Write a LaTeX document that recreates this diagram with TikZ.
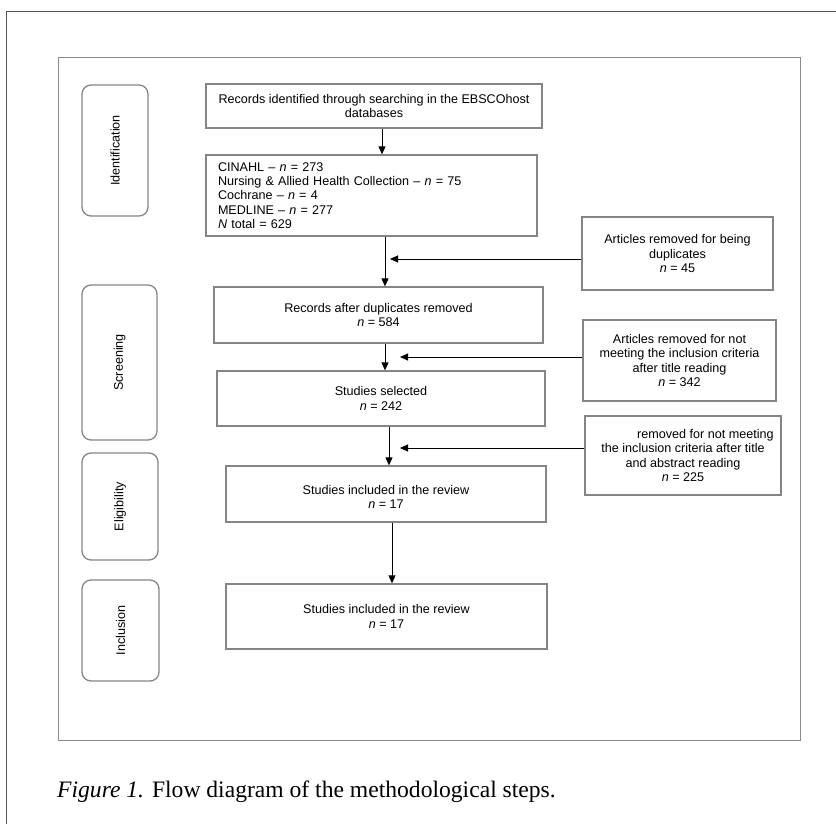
\documentclass[tikz,border=0pt]{standalone}
\usepackage{fontspec}
\setmainfont{Liberation Sans}
\newfontfamily\capfont{Liberation Serif}
\usetikzlibrary{arrows.meta}
\definecolor{boxgray}{HTML}{858585}
\definecolor{framegray}{HTML}{8A8A8A}
\definecolor{outergray}{HTML}{555555}
\begin{document}
\begin{tikzpicture}[x=1pt,y=-1pt,
  box/.style={draw=boxgray, line width=1.3pt, inner sep=0pt, align=center,
    font=\fontsize{12.6}{14.2}\selectfont},
  stage/.style={draw=boxgray, line width=1.3pt, rounded corners=9pt, inner sep=0pt,
    rotate=90, font=\fontsize{12.6}{14.2}\selectfont},
  arr/.style={line width=0.9pt, -{Triangle[length=8pt,width=7pt]}}]
\useasboundingbox (0,0) rectangle (836,824);
% frames
\draw[outergray, line width=1pt] (6,830) -- (6,12) -- (840,12);
\draw[framegray, line width=1pt] (58,58) rectangle (800,740);
% stage boxes
\node[stage, minimum width=131pt, minimum height=66pt] (sid) at (115,150.5) {Identification};
\node[stage, minimum width=155pt, minimum height=75pt] (ssc) at (119.5,362.5) {Screening};
\node[stage, minimum width=107pt, minimum height=76pt] (sel) at (120,506.5) {Eligibility};
\node[stage, minimum width=101pt, minimum height=77pt] (sin) at (120.5,630.5) {Inclusion};
% main boxes
\node[box, minimum width=336pt, minimum height=44pt] (A) at (374,106)
  {Records identified through searching in the EBSCOhost\\databases};
\node[box, minimum width=331pt, minimum height=81pt, text width=307pt, align=left] (B) at (371.5,195.5)
  {CINAHL -- \textit{n} = 273\\Nursing \& Allied Health Collection -- \textit{n} = 75\\Cochrane -- \textit{n} = 4\\MEDLINE -- \textit{n} = 277\\\textit{N} total = 629};
\node[box, minimum width=329pt, minimum height=56pt] (C) at (378.5,315)
  {Records after duplicates removed\\\textit{n} = 584};
\node[box, minimum width=328pt, minimum height=55pt] (D) at (381,398.5)
  {Studies selected\\\textit{n} = 242};
\node[box, minimum width=320pt, minimum height=56pt] (E) at (386,494)
  {\rule{0pt}{15pt}Studies included in the review\\\textit{n} = 17};
\node[box, minimum width=321pt, minimum height=65pt] (F) at (386.5,616.5)
  {Studies included in the review\\\textit{n} = 17};
% right boxes
\node[box, minimum width=191pt, minimum height=73pt] (R1) at (677.5,253.5)
  {Articles removed for being\\duplicates\\\textit{n} = 45};
\node[box, minimum width=193pt, minimum height=81pt] (R2) at (679.5,360.5)
  {Articles removed for not\\meeting the inclusion criteria\\after title reading\\\textit{n} = 342};
\node[box, minimum width=196pt, minimum height=79pt] (R3) at (683,455.5)
  {\phantom{Articles }removed for not meeting\\the inclusion criteria after title\\and abstract reading\\\textit{n} = 225};
% free ends of side arrows
\coordinate (t1) at (390,259);
\coordinate (t2) at (400,357);
\coordinate (t3) at (400,448);
% vertical arrows
\draw[arr] (A.south -| 382,0) -- (B.north -| 382,0);
\draw[arr] (B.south -| 385,0) -- (C.north -| 385,0);
\draw[arr] (C.south -| 385,0) -- (D.north -| 385,0);
\draw[arr] (D.south -| 389,0) -- (E.north -| 389,0);
\draw[arr] (E.south -| 392,0) -- (F.north -| 392,0);
% side arrows
\draw[arr] (R1.west |- t1) -- (t1);
\draw[arr] (R2.west |- t2) -- (t2);
\draw[arr] (R3.west |- t3) -- (t3);
% caption
\node[anchor=base west, inner sep=0pt, font=\capfont\fontsize{23.6}{28}\selectfont] (cap) at (57,797)
  {\textit{Figure 1.} Flow diagram of the methodological steps.};
\end{tikzpicture}
\end{document}
